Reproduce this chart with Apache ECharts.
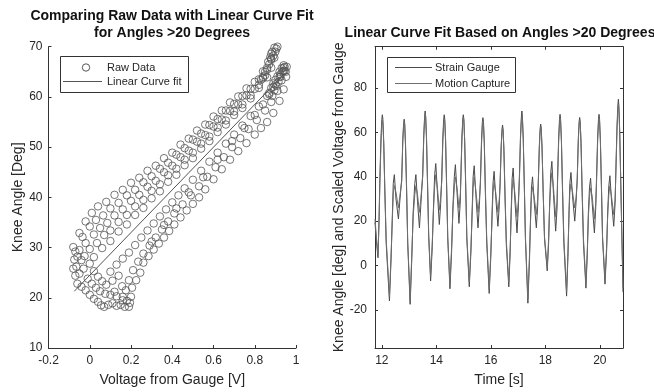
<!DOCTYPE html>
<html>
<head>
<meta charset="utf-8">
<script src="https://cdn.jsdelivr.net/npm/echarts@6/dist/echarts.min.js"></script>
<style>
  html, body { margin: 0; padding: 0; background: #ffffff; }
  #chart { width: 654px; height: 392px; }
</style>
</head>
<body>
<div id="chart"></div>
<script>
// ---- Raw data: gauge voltage [V] vs knee angle [deg], grouped by region of the loop ----
const upperBranch = [
  [-0.08,30.1],[-0.05,32.9],[-0.02,35.2],[0.01,36.9],[0.04,38.2],[0.08,39.1],[0.12,40.5],[0.16,41.5],[0.2,42.9],[0.24,43.9],[0.28,45.3],[0.32,46.3],[0.36,47.8],[0.4,48.9],[0.44,50.5],[0.48,51.7],[0.52,53.3],[0.56,54.5],[0.6,56.1],[0.64,57.3],[0.68,58.9],[0.72,60.1],[0.76,61.7],[0.8,63.0],[0.84,65.1],[0.88,67.6],[0.91,70.2],
  [-0.07,29.2],[-0.035,32.1],[0.0,34.2],[0.03,35.5],[0.065,36.4],[0.1,37.8],[0.14,38.9],[0.18,40.4],[0.22,41.5],[0.26,43.0],[0.3,44.2],[0.34,45.7],[0.38,46.9],[0.42,48.5],[0.46,49.8],[0.5,51.5],[0.54,52.7],[0.58,54.4],[0.62,55.6],[0.66,57.3],[0.7,58.6],[0.74,60.2],[0.78,61.6],[0.82,63.5],[0.86,65.4],[0.895,67.8],
  [-0.06,28.2],[-0.02,30.9],[0.02,32.6],[0.05,33.9],[0.085,34.9],[0.12,36.4],[0.16,37.6],[0.2,39.3],[0.24,40.5],[0.28,42.1],[0.32,43.3],[0.36,45.0],[0.4,46.3],[0.44,48.0],[0.48,49.3],[0.52,51.1],[0.56,52.4],[0.6,54.1],[0.64,55.5],[0.68,57.2],[0.72,58.5],[0.76,60.3],[0.8,61.6],[0.84,63.7],[0.88,65.8],
  [-0.04,27.5],[0.0,29.7],[0.035,30.9],[0.07,32.5],[0.1,33.4],[0.14,35.1],[0.18,36.5],[0.22,38.2],[0.26,39.5],[0.3,41.3],[0.34,42.6],[0.38,44.4],[0.42,45.7],[0.46,47.5],[0.5,48.9],[0.54,50.7],[0.58,52.1],[0.62,53.9],[0.66,55.3],[0.7,57.1],[0.74,58.5],[0.78,60.3],[0.82,61.8],[0.86,63.9],
  [0.02,28.1],[0.06,29.9],[0.1,31.3],[0.14,33.2],[0.18,34.6],[0.22,36.5],[0.26,37.9],[0.3,39.8],[0.34,41.2],[0.38,43.1],[0.42,44.5],[0.46,46.4],[0.5,47.8],[0.54,49.7],[0.58,51.2],[0.62,53.0],[0.66,54.5],[0.7,56.4],[0.74,57.8],[0.78,59.7]
];
const lowerBranch = [
  [0.19,18.2],[0.2,20.2],[0.205,22.0],[0.225,23.5],[0.245,25.0],[0.26,27.0],[0.285,28.3],[0.31,29.6],[0.335,30.8],[0.36,32.0],[0.385,33.3],[0.41,34.6],[0.44,36.0],[0.47,37.4],[0.5,38.7],[0.53,40.0],[0.56,41.6],[0.6,43.6],[0.64,45.6],[0.68,47.5],[0.72,49.2],[0.76,50.8],[0.8,52.5],[0.83,53.8],[0.86,55.0],[0.89,56.8],[0.92,59.2],[0.94,61.5],[0.952,64.0],[0.955,66.0],
  [0.16,19.5],[0.175,21.5],[0.19,23.5],[0.21,25.5],[0.235,27.2],[0.26,28.8],[0.29,30.4],[0.32,32.0],[0.35,33.6],[0.38,35.2],[0.41,36.8],[0.45,38.6],[0.49,40.4],[0.53,42.2],[0.57,44.1],[0.61,46.0],[0.65,48.0],[0.69,50.0],[0.73,51.8],[0.77,53.6],[0.81,55.4],[0.85,57.3],[0.88,59.0],[0.91,61.2],[0.93,63.3],[0.945,65.2],
  [0.1,25.2],[0.13,26.6],[0.16,27.8],[0.19,29.0],[0.22,30.5],[0.25,32.0],[0.28,33.4],[0.31,34.8],[0.34,36.2],[0.37,37.6],[0.4,39.0],[0.43,40.4],[0.46,41.8],[0.5,43.5],[0.54,45.3],[0.58,47.1],[0.62,48.9],[0.66,50.7],[0.7,52.5],[0.74,54.3],[0.78,56.2],[0.82,58.1],[0.86,60.2],[0.89,62.0],[0.92,64.0],[0.94,65.8],
  [0.3,31.2],[0.36,34.5],[0.42,37.8],[0.48,41.0],[0.55,44.0],[0.62,47.5],[0.69,51.2],[0.75,53.8],[0.8,56.4],[0.84,58.5],[0.87,60.5],[0.9,62.5],[0.925,64.5],
  [0.157,22.3],[0.12,21.2],[0.08,22.6],[0.14,24.4],[0.11,23.4]
];
const turnCluster = [
  [0.17,18.2],[0.15,18.6],[0.13,18.4],[0.11,18.9],[0.09,18.6],[0.07,18.2],[0.055,18.5],[0.04,19.2],[0.02,19.8],[0.0,20.6],[-0.02,21.5],[-0.04,22.2],
  [0.16,20.2],[0.13,20.3],[0.1,20.6],[0.075,20.8],[0.05,21.3],[0.03,22.0],[0.01,22.8],[-0.01,23.8],[0.06,23.3],[0.04,24.2],[0.02,25.3],
  [-0.06,22.8],[-0.07,24.4],[-0.08,25.8],[-0.075,27.6],[-0.065,26.2],[-0.05,24.8],[-0.03,25.8],[0.0,26.8],[-0.05,29.5],[-0.025,28.3],[0.18,19.4],[0.195,19.0]
];
const peakCluster = [
  [0.84,64.0],[0.85,65.0],[0.86,65.8],[0.87,66.5],[0.88,67.4],[0.89,68.2],[0.9,69.0],[0.905,69.6],[0.91,70.0],[0.895,69.8],[0.88,68.6],[0.865,67.0],[0.85,64.3],[0.83,63.4],[0.82,62.4],[0.875,67.9],[0.9,70.1],[0.885,69.0],
  [0.87,60.8],[0.88,61.8],[0.89,62.7],[0.9,63.4],[0.91,64.1],[0.92,65.0],[0.93,65.7],[0.94,66.3],[0.935,65.0],[0.925,64.0],[0.915,63.0],[0.905,62.2],[0.895,61.3],[0.885,60.2],[0.94,65.2],[0.945,66.0],[0.95,65.0]
];

// ---- Linear fit end points ----
const fitVoltage = [-0.075, 0.94];
const fitAngle = [21.3, 64.45];

// ---- Time series: strain gauge (scaled) and motion capture knee angle ----
const timeSec = [
  11.75,11.80,11.86,11.90,
  11.93,11.97,12.00,12.02,12.04,12.07,12.11,12.16,12.28,12.34,12.39,12.42,12.46,12.52,12.61,12.66,
  12.73,12.77,12.80,12.82,12.84,12.87,12.91,12.95,13.04,13.10,13.15,13.21,13.25,13.31,13.38,13.43,
  13.50,13.54,13.57,13.59,13.61,13.64,13.68,13.72,13.79,13.85,13.90,13.94,13.98,14.04,14.11,14.16,
  14.20,14.24,14.27,14.29,14.31,14.34,14.38,14.42,14.50,14.56,14.61,14.66,14.70,14.76,14.83,14.88,
  14.90,14.94,14.97,14.99,15.01,15.04,15.08,15.12,15.21,15.27,15.32,15.35,15.39,15.45,15.53,15.58,
  15.62,15.66,15.69,15.71,15.73,15.76,15.80,15.85,15.94,16.00,16.05,16.08,16.12,16.18,16.26,16.31,
  16.34,16.38,16.41,16.43,16.45,16.48,16.52,16.57,16.66,16.71,16.75,16.78,16.82,16.88,16.96,17.01,
  17.05,17.09,17.12,17.14,17.16,17.19,17.23,17.27,17.36,17.42,17.46,17.49,17.53,17.59,17.67,17.72,
  17.74,17.78,17.81,17.83,17.85,17.88,17.92,17.97,18.07,18.12,18.16,18.20,18.24,18.30,18.38,18.43,
  18.45,18.49,18.52,18.54,18.56,18.59,18.63,18.68,18.78,18.83,18.87,18.90,18.94,19.00,19.08,19.13,
  19.17,19.21,19.24,19.26,19.28,19.31,19.35,19.40,19.49,19.54,19.58,19.62,19.66,19.72,19.80,19.85,
  19.88,19.92,19.95,19.97,19.99,20.02,20.06,20.10,20.19,20.25,20.29,20.33,20.37,20.43,20.51,20.56,
  20.59,20.63,20.66,20.68,20.70,20.73,20.77,20.81,20.85
];
const strainGauge = [
  19.5,11,3.5,22,
  40,58,66,68,66,56,34,10,-16,3,24,37,41,30,21,29,
  39,57,64,66,64,54,33,10,-17.5,3,24,37,41,29,17,27,
  41,59,67,69.7,67,57,35,13,-7,8,28,41,46,33,18.5,28,
  40,58,66,68,66,56,34,12,-10.5,6,27,40,45.5,33,19,29,
  40,58,66,68,66,56,34,12,-9.6,6,27,40,45,32,17,27,
  39,57,65,66.7,65,55,33,10,-12.6,4,25,37,42.5,31,17.7,27,
  37,54,61.5,63.4,61.5,52,31,9,-9.6,6,26,39,44,30,14.7,26,
  41,59,67,69.7,67,57,35,12,-17,3,23,35,40,29,17,27,
  37,54,62,63.8,62,53,33,12,-2.4,10,29,42,47,32,15.5,26,
  40,58,66,68.2,66,56,34,10,-13.8,4,25,37,42,31,20,29,
  39,57,65,66.8,65,55,33,10,-10.2,5,24,35,39.4,28,14.7,26,
  40,58,66,68.2,66,56,34,12,-8.4,7,25,36,40.5,29,17.7,28,
  44,63,72,75,72,60,36,12,-12
];
const motionCapture = [
  21,13,5,20,
  37,55,63,65.5,64,55,35,12,-14,5,22,32,36,33,26,31,
  38,56,63,65,63.5,55,35,11,-16,5,22,32,36,32,24,30,
  40,58,66,68.5,67,58,37,14,-5,10,26,36,41,35,25,31,
  38,56,64,66.5,65,57,36,13,-8.5,8,25,35,40,35,26,32,
  39,57,65,67,65.5,57,36,13,-7.5,8,25,35,40,34,24,30,
  37,55,63,65,64,56,35,12,-10.5,6,23,33,37.5,33,24,30,
  36,53,60,62,61,53,33,11,-7.5,8,24,34,39,33,22,29,
  39,57,65,67.5,66,57,36,13,-15,5,21,31,35.5,31,23,30,
  36,53,60.5,62.5,61,53,34,13,-1,12,27,37,42,35,22,29,
  38,56,64,66.5,65,57,36,12,-11.8,6,23,33,37,33,26,31,
  38,56,63.5,65.5,64,56,35,12,-8.2,7,22,31,35,31,21,28,
  38,56,64,66.5,65,57,36,13,-6.5,9,23,32,36,31,23,30,
  42,61,70,72.5,70,60,37,13,-10
];

// ---- Tick positions ----
const timeTicks = [12, 14, 16, 18, 20];
const fitTicks = [-20, 0, 20, 40, 60, 80];

const FONT = "'Liberation Sans', Arial, Helvetica, sans-serif";
const AXIS_COLOR = '#333333';
const TEXT_COLOR = '#262626';
const SG_COLOR = '#4a4a4a';
const MC_COLOR = '#6e6e6e';
const DOT_COLOR = '#555555';
const NAME_SIZE = 14;
const TITLE_SIZE = 14;

const chart = echarts.init(document.getElementById('chart'), null, { renderer: 'canvas' });

function axisBase(extra) {
  return Object.assign({
    type: 'value',
    axisLine: { show: true, onZero: false, lineStyle: { color: AXIS_COLOR, width: 1 } },
    axisTick: { show: true, inside: true, length: 3, lineStyle: { color: AXIS_COLOR, width: 1 } },
    axisLabel: { color: TEXT_COLOR, fontSize: 12, fontFamily: FONT },
    splitLine: { show: false },
    nameTextStyle: { color: TEXT_COLOR, fontSize: NAME_SIZE, fontFamily: FONT },
    nameLocation: 'middle'
  }, extra);
}

const fmt = v => String(Math.round(v * 10) / 10);

const rightXMin = 11.75, rightXMax = 20.85;
const rightYMin = -37.2, rightYMax = 98.7;

const option = {
  animation: false,
  backgroundColor: '#ffffff',
  grid: [
    { left: 48.5, top: 46.7, width: 247.5, height: 302.3 },
    { left: 375, top: 46.7, width: 248, height: 302.3 }
  ],
  xAxis: [
    axisBase({
      gridIndex: 0, min: -0.2, max: 1, interval: 0.2,
      name: 'Voltage from Gauge [V]', nameGap: 25,
      axisLabel: { color: TEXT_COLOR, fontSize: 12, fontFamily: FONT, margin: 7, formatter: fmt }
    }),
    axisBase({
      gridIndex: 1, min: rightXMin, max: rightXMax,
      name: 'Time [s]', nameGap: 25,
      axisTick: { show: true, inside: true, length: 3, customValues: timeTicks, lineStyle: { color: AXIS_COLOR } },
      axisLabel: { color: TEXT_COLOR, fontSize: 12, fontFamily: FONT, margin: 7, customValues: timeTicks }
    }),
    axisBase({
      gridIndex: 1, position: 'top', min: rightXMin, max: rightXMax,
      axisTick: { show: true, inside: true, length: 3, customValues: timeTicks, lineStyle: { color: AXIS_COLOR } },
      axisLabel: { show: false, customValues: timeTicks }
    })
  ],
  yAxis: [
    axisBase({
      gridIndex: 0, min: 10, max: 70, interval: 10,
      name: 'Knee Angle [Deg]', nameGap: 22,
      axisLabel: { color: TEXT_COLOR, fontSize: 12, fontFamily: FONT, margin: 6 }
    }),
    axisBase({
      gridIndex: 1, min: rightYMin, max: rightYMax,
      name: 'Knee Angle [deg] and Scaled Voltage from Gauge', nameGap: 29,
      axisTick: { show: true, inside: true, length: 3, customValues: fitTicks, lineStyle: { color: AXIS_COLOR } },
      axisLabel: { color: TEXT_COLOR, fontSize: 12, fontFamily: FONT, margin: 8, customValues: fitTicks }
    }),
    axisBase({
      gridIndex: 1, position: 'right', min: rightYMin, max: rightYMax,
      axisTick: { show: true, inside: true, length: 3, customValues: fitTicks, lineStyle: { color: AXIS_COLOR } },
      axisLabel: { show: false, customValues: fitTicks }
    })
  ],
  series: [
    ...[upperBranch, lowerBranch, turnCluster, peakCluster].map(pts => ({
      type: 'scatter', xAxisIndex: 0, yAxisIndex: 0,
      data: pts, symbol: 'circle', symbolSize: 7.5,
      itemStyle: { color: 'rgba(0,0,0,0)', borderColor: DOT_COLOR, borderWidth: 1 },
      emphasis: { disabled: true }, silent: true
    })),
    {
      type: 'line', xAxisIndex: 0, yAxisIndex: 0,
      data: fitVoltage.map((v, i) => [v, fitAngle[i]]),
      showSymbol: false, lineStyle: { color: '#555555', width: 1 }, silent: true
    },
    {
      type: 'line', xAxisIndex: 1, yAxisIndex: 1,
      data: timeSec.map((t, i) => [t, strainGauge[i]]),
      showSymbol: false, lineStyle: { color: SG_COLOR, width: 1 }, silent: true
    },
    {
      type: 'line', xAxisIndex: 1, yAxisIndex: 1,
      data: timeSec.map((t, i) => [t, motionCapture[i]]),
      showSymbol: false, lineStyle: { color: MC_COLOR, width: 1 }, silent: true
    }
  ],
  graphic: [
    // titles
    { type: 'text', x: 172, y: 16.5, z: 100, style: { text: 'Comparing Raw Data with Linear Curve Fit', textAlign: 'center', textVerticalAlign: 'middle', fontSize: TITLE_SIZE, fontWeight: 'bold', fontFamily: FONT, fill: '#111111' } },
    { type: 'text', x: 172, y: 33.5, z: 100, style: { text: 'for Angles >20 Degrees', textAlign: 'center', textVerticalAlign: 'middle', fontSize: TITLE_SIZE, fontWeight: 'bold', fontFamily: FONT, fill: '#111111' } },
    { type: 'text', x: 500, y: 33.5, z: 100, style: { text: 'Linear Curve Fit Based on Angles >20 Degrees', textAlign: 'center', textVerticalAlign: 'middle', fontSize: TITLE_SIZE, fontWeight: 'bold', fontFamily: FONT, fill: '#111111' } },
    // left legend
    { type: 'rect', z: 100, shape: { x: 60.5, y: 56.5, width: 128, height: 36 }, style: { fill: '#ffffff', stroke: AXIS_COLOR, lineWidth: 1 } },
    { type: 'circle', z: 101, shape: { cx: 86, cy: 67.5, r: 3.7 }, style: { fill: 'none', stroke: DOT_COLOR, lineWidth: 1 } },
    { type: 'text', z: 101, x: 107, y: 68, style: { text: 'Raw Data', textVerticalAlign: 'middle', fontSize: 11, fontFamily: FONT, fill: TEXT_COLOR } },
    { type: 'line', z: 101, shape: { x1: 63, y1: 81.5, x2: 102, y2: 81.5 }, style: { stroke: '#555555', lineWidth: 1 } },
    { type: 'text', z: 101, x: 107, y: 82, style: { text: 'Linear Curve fit', textVerticalAlign: 'middle', fontSize: 11, fontFamily: FONT, fill: TEXT_COLOR } },
    // right legend
    { type: 'rect', z: 100, shape: { x: 387.5, y: 57.5, width: 128, height: 35 }, style: { fill: '#ffffff', stroke: AXIS_COLOR, lineWidth: 1 } },
    { type: 'line', z: 101, shape: { x1: 395, y1: 67.5, x2: 432, y2: 67.5 }, style: { stroke: SG_COLOR, lineWidth: 1 } },
    { type: 'text', z: 101, x: 435, y: 68, style: { text: 'Strain Gauge', textVerticalAlign: 'middle', fontSize: 11, fontFamily: FONT, fill: TEXT_COLOR } },
    { type: 'line', z: 101, shape: { x1: 395, y1: 83.5, x2: 432, y2: 83.5 }, style: { stroke: MC_COLOR, lineWidth: 1 } },
    { type: 'text', z: 101, x: 435, y: 84, style: { text: 'Motion Capture', textVerticalAlign: 'middle', fontSize: 11, fontFamily: FONT, fill: TEXT_COLOR } }
  ]
};

chart.setOption(option);
</script>
</body>
</html>
